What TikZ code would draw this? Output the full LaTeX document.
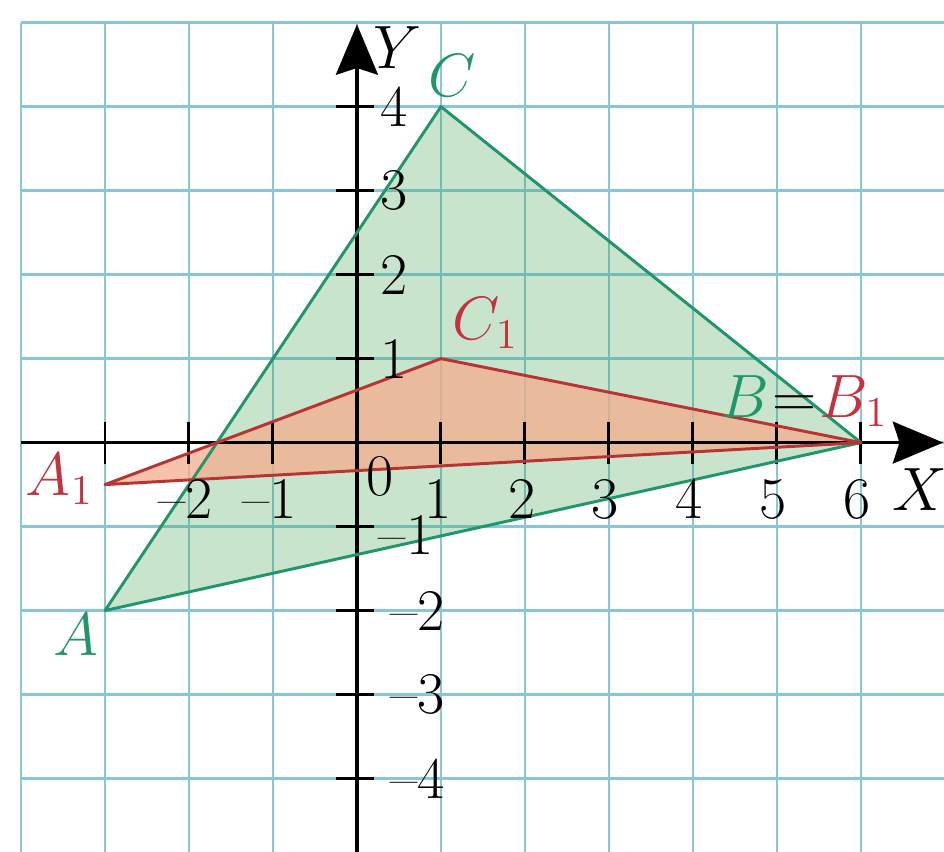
\documentclass[tikz,border=0pt]{standalone}
\usetikzlibrary{arrows.meta}
\definecolor{gridblue}{RGB}{136,198,216}
\definecolor{trigreen}{RGB}{32,150,106}
\definecolor{greenfill}{RGB}{72,165,85}
\definecolor{redline}{RGB}{182,52,52}
\definecolor{redtext}{RGB}{196,50,64}
\definecolor{redfill}{RGB}{245,172,142}
\tikzset{
  >={Stealth[length=6mm,width=5mm,inset=0.8mm]},
  gridline/.style={draw=gridblue,line width=0.9pt},
  axis/.style={->,line width=1.1pt,black},
  tickmark/.style={line width=1pt,black},
  num/.style={font=\fontsize{20}{24}\selectfont,inner sep=1pt},
  ptlabel/.style={font=\fontsize{20}{24}\selectfont,inner sep=1pt,text=#1},
  ptlabel/.default=trigreen,
  side/.style={draw=#1,line width=1pt,line join=round},
}

\begin{document}
\begin{tikzpicture}
  \useasboundingbox (-4.25,-4.87) rectangle (6.99,5.27);
  \draw[gridline] (-4,-4.87) grid (7,5);

  % triangle ABC and its image A1B1C1
  \coordinate (A) at (-3,-2);
  \coordinate (B) at (6,0);
  \coordinate (C) at (1,4);
  \coordinate (A1) at (-3,-0.5);
  \coordinate (B1) at (6,0);
  \coordinate (C1) at (1,1);
  \fill[greenfill,opacity=0.3] (A) -- (B) -- (C) -- cycle;
  \fill[redfill,opacity=0.75] (A1) -- (B1) -- (C1) -- cycle;

  % axes
  \coordinate (xs) at (-4,0);
  \coordinate (xe) at (6.98,0);
  \coordinate (ys) at (0,-4.87);
  \coordinate (ye) at (0,4.98);
  \draw[axis] (xs) -- (xe);
  \draw[axis] (ys) -- (ye);
  \foreach \x in {-3,...,6} \draw[tickmark] (\x,-0.25) -- (\x,0.25);
  \foreach \y in {-4,...,-1,1,2,3,4} \draw[tickmark] (-0.25,\y) -- (0.2,\y);

  \draw[side=trigreen] (A) -- (B) -- (C) -- cycle;
  \draw[side=redline] (A1) -- (B1) -- (C1) -- cycle;

  % numbers
  \foreach \x/\t [count=\i] in {-2/--2,-1/--1,1/1,2/2,3/3,4/4,5/5,6/6}
    \node[num,anchor=base] (xn\i) at (\x-0.04,-0.9) {\t};
  \node[num] (zero) at (0.27,-0.4) {0};
  \foreach \y [count=\i] in {1,2,3,4}
    \node[num,anchor=west] (yp\i) at (0.24,\y) {\y};
  \node[num,anchor=west] (yn1) at (0.22,-1.1) {--1};
  \foreach \y [count=\i from 2] in {2,3,4}
    \node[num,anchor=west] (yn\i) at (0.36,-\y) {--\y};
  \node[num] (lx) at (6.7,-0.56) {$X$};
  \node[num] (ly) at (0.48,4.7) {$Y$};

  % vertex labels
  \node[ptlabel,anchor=base] (lA) at (-3.34,-2.54) {$A$};
  \node[ptlabel,anchor=base] (lC) at (1.13,4.12) {$C$};
  \node[ptlabel=redtext,anchor=base east] (lA1) at (-3.1,-0.63) {$A_1$};
  \node[ptlabel=redtext,anchor=base west] (lC1) at (1.1,1.23) {$C_1$};
  \node[ptlabel,anchor=base east] (lB) at (6.36,0.3)
    {$B\mkern1mu\textcolor{black}{=}\mkern1mu\textcolor{redtext}{B_1}$};
\end{tikzpicture}
\end{document}
